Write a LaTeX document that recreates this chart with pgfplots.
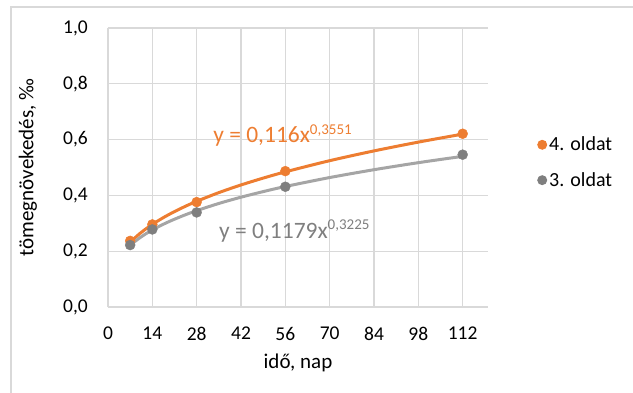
\documentclass[border=0pt]{standalone}
\usepackage{fontspec}
\setmainfont{Carlito}
\usepackage{pgfplots}
\pgfplotsset{compat=1.18}
\definecolor{xorange}{HTML}{ED7D31}
\definecolor{xgray}{HTML}{A5A5A5}
\definecolor{xdgray}{HTML}{7F7F7F}
\definecolor{xgrid}{HTML}{D9D9D9}
\begin{document}
\begin{tikzpicture}[x=1pt,y=1pt]
\useasboundingbox (-108,-85) rectangle (525,307);
\draw[xgrid, line width=1.2pt] (-97,-90) -- (-97,300) -- (530,300);
\begin{axis}[
  at={(0,0)}, anchor=south west,
  scale only axis, width=380pt, height=279pt,
  xmin=0, xmax=120, ymin=0, ymax=1,
  xtick={0,14,28,42,56,70,84,98,112},
  ytick={0,0.2,0.4,0.6,0.8,1},
  grid=major,
  major grid style={xgrid, line width=1.2pt},
  axis line style={draw=none},
  tick style={draw=none},
  clip=false,
  /pgf/number format/assume math mode=true,
  tick label style={font=\fontsize{19.5}{20}\selectfont, text=black},
  yticklabel style={/pgf/number format/.cd, fixed, fixed zerofill, precision=1, use comma, /tikz/.cd, anchor=east, inner sep=0pt, xshift=-20pt},
  xticklabel style={anchor=north, inner sep=0pt, yshift=-20pt},
  xlabel={idő, nap},
  ylabel={tömegnövekedés, ‰},
  label style={font=\fontsize{21}{23}\selectfont},
  xlabel style={at={(axis description cs:0.5,-0.2007)}, anchor=center},
  ylabel style={at={(axis description cs:-0.2105,0.5)}, anchor=center},
  legend style={at={(axis description cs:1.129,0.518)}, anchor=west, draw=none, fill=none, inner sep=0pt, font=\fontsize{20}{20}\selectfont, row sep=16pt},
  legend image code/.code={\fill[#1, draw=none] (5pt,0) circle (5pt);},
]
\addplot[xorange, line width=3pt, smooth, forget plot] coordinates {
(7,0.2315)(8,0.2427)(10,0.2628)(12,0.2803)(14,0.2961)(17,0.3172)(20,0.3361)(24,0.3586)(28,0.3788)(35,0.4100)(42,0.4374)(49,0.4620)(56,0.4844)(70,0.5244)(84,0.5595)(98,0.5910)(112,0.6197)};
\addplot[only marks, mark=*, mark size=5pt, xorange, mark options={draw=xorange, fill=xorange}] coordinates {
(7,0.237)(14,0.296)(28,0.376)(56,0.487)(112,0.621)};
\addlegendentry{4. oldat}
\addplot[xgray, line width=3pt, smooth, forget plot] coordinates {
(7,0.2208)(8,0.2305)(10,0.2477)(12,0.2628)(14,0.2761)(17,0.2940)(20,0.3098)(24,0.3286)(28,0.3453)(35,0.3711)(42,0.3936)(49,0.4136)(56,0.4319)(70,0.4640)(84,0.4921)(98,0.5173)(112,0.5400)};
\addplot[only marks, mark=*, mark size=5pt, xdgray, mark options={draw=xdgray, fill=xdgray}] coordinates {
(7,0.222)(14,0.278)(28,0.339)(56,0.431)(112,0.546)};
\addlegendentry{3. oldat}
\node[anchor=base west, inner sep=0pt, text=xorange] at (axis cs:33.2,0.589) {\fontsize{23.5}{24}\selectfont y = 0,116x\raisebox{8.4pt}{\fontsize{15}{15}\selectfont 0,3551}};
\node[anchor=base west, inner sep=0pt, text=xdgray] at (axis cs:35.05,0.246) {\fontsize{23.5}{24}\selectfont y = 0,1179x\raisebox{8.4pt}{\fontsize{15}{15}\selectfont 0,3225}};
\end{axis}
\end{tikzpicture}
\end{document}
